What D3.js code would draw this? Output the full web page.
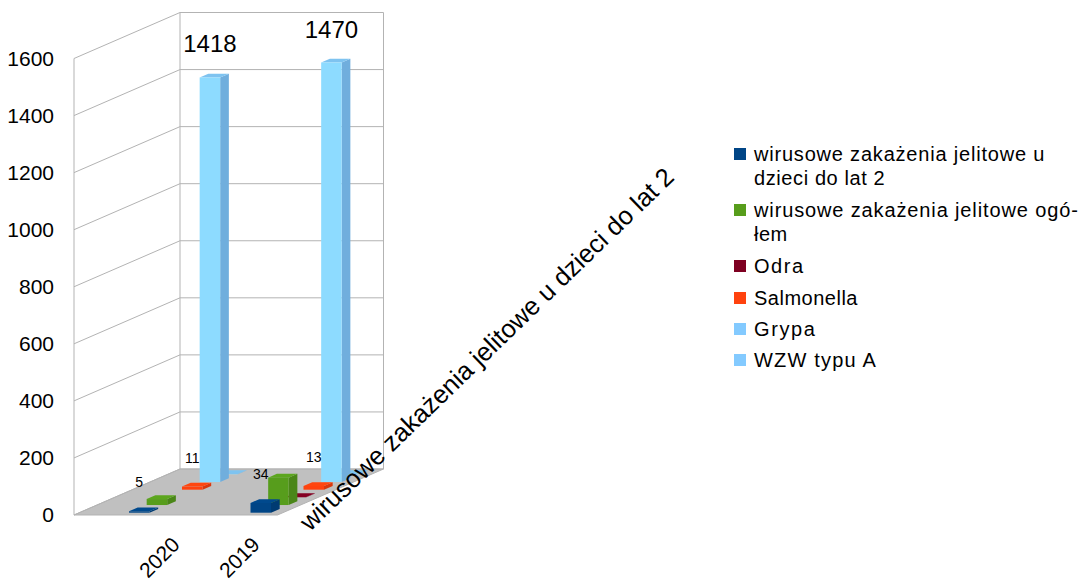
<!DOCTYPE html>
<html>
<head>
<meta charset="utf-8">
<script src="https://cdn.jsdelivr.net/npm/d3@7"></script>
<style>
  html, body { margin: 0; padding: 0; background: #fff; }
  text { font-family: "Liberation Sans", Arial, sans-serif; fill: #000; }
</style>
</head>
<body>
<svg id="chart" width="1080" height="581"></svg>
<script>
const years = ["2020", "2019"];
const seriesNames = ["wirusowe zakażenia jelitowe u dzieci do lat 2", "wirusowe zakażenia jelitowe ogółem", "Odra", "Salmonella", "Grypa", "WZW typu A"];
const legendLines = [["wirusowe zakażenia jelitowe u", "dzieci do lat 2"], ["wirusowe zakażenia jelitowe ogó-", "łem"], ["Odra"], ["Salmonella"], ["Grypa"], ["WZW typu A"]];
const legendSpacing = [[0.8, 0.6], [0.87, 0.5], [1.55], [0.5], [1.6], [1.2]];
const colors = ["#004586", "#579d1c", "#7e0021", "#ff420e", "#83caff", "#83caff"];

// values per series, same order as years
const wirusDzieci = [5, 34];
const wirusOgolem = [21, 96];
const odra = [0, 1];
const salmonella = [11, 13];
const grypa = [1418, 1470];
const wzw = [1, 1];
const allValues = [wirusDzieci, wirusOgolem, odra, salmonella, grypa, wzw];

// only these series carry a label
const labelled = [true, false, false, true, true, false];
const yTicks = [0, 200, 400, 600, 800, 1000, 1200, 1400, 1600];

const svg = d3.select("#chart");

// oblique projection of the 3d box: x across, depth back, v up
const boxW = 203.5, depthX = 106, depthY = 46;
const originX = 74, originY = 515;
const yScale = d3.scaleLinear().domain([0, 1600]).range([originY, 58.5]);
const xScale = d3.scaleBand().domain(years).range([49.7, 292.7]);
const depthScale = d3.scaleBand().domain(seriesNames).range([0.05, 1.05]);

function project(x, d, v) {
    return [originX + x + d * depthX, yScale(v) - d * depthY];
}
function poly(points, fill, stroke) {
    return svg.append("polygon")
        .attr("points", points.map(p => p.join(",")).join(" "))
        .attr("fill", fill)
        .attr("stroke", stroke || "none")
        .attr("stroke-width", stroke ? 1 : 0);
}

// floor
poly([project(0, 0, 0), project(boxW, 0, 0), project(boxW, 1, 0), project(0, 1, 0)], "#c0c0c0", "#b3b3b3");

// walls and gridlines
const lineColor = "#b3b3b3";
function wallLine(a, b) {
    svg.append("line")
        .attr("x1", a[0]).attr("y1", a[1])
        .attr("x2", b[0]).attr("y2", b[1])
        .attr("stroke", lineColor).attr("stroke-width", 1);
}
yTicks.forEach(t => {
    wallLine(project(0, 0, t), project(0, 1, t));
    wallLine(project(0, 1, t), project(boxW, 1, t));
});
wallLine(project(0, 0, 0), project(0, 0, 1600));
wallLine(project(0, 1, 0), project(0, 1, 1600));
wallLine(project(boxW, 1, 0), project(boxW, 1, 1600));

// y axis
const yAxis = svg.append("g")
    .attr("transform", `translate(${originX},0)`)
    .call(d3.axisLeft(yScale).tickValues(yTicks).tickSize(0).tickPadding(20).tickFormat(d3.format("d")));
yAxis.select(".domain").remove();
yAxis.selectAll("text").style("font-size", "21px").style("font-family", '"Liberation Sans"');

// bars, back to front
const barW = 20.5, barD = 0.082;
const bars = [];
seriesNames.forEach((name, i) => {
    years.forEach((yr, j) => bars.push({ i, j, name, yr, v: allValues[i][j] }));
});
bars.sort((a, b) => b.i - a.i);

bars.forEach(b => {
    if (b.v <= 0) return;
    const x0 = xScale(b.yr), x1 = x0 + barW;
    const d0 = depthScale(b.name), d1 = d0 + barD;
    const base = colors[b.i];
    const front = b.i >= 4 ? "#8ddbff" : base;
    const side = d3.color(base).darker(b.i >= 4 ? 0.55 : 0.45).formatHex();
    const top = d3.color(front).brighter(0.15).formatHex();
    poly([project(x1, d0, 0), project(x1, d1, 0), project(x1, d1, b.v), project(x1, d0, b.v)], b.i >= 4 ? "#70aedd" : side);
    poly([project(x0, d0, b.v), project(x1, d0, b.v), project(x1, d1, b.v), project(x0, d1, b.v)], b.i >= 4 ? "#7ec3f0" : top);
    poly([project(x0, d0, 0), project(x1, d0, 0), project(x1, d0, b.v), project(x0, d0, b.v)], front);
});

// data labels above the front face
bars.filter(b => labelled[b.i]).forEach(b => {
    const p = project(xScale(b.yr) + barW / 2, depthScale(b.name), b.v);
    const big = b.i === 4;
    svg.append("text")
        .attr("x", p[0])
        .attr("y", p[1] - (big ? 25 : 24))
        .attr("text-anchor", "middle")
        .style("font-size", big ? "24px" : "14px")
        .text(b.v);
});

// category labels, rotated
const catX = d3.scalePoint().domain(years).range([181, 261]);
years.forEach(yr => {
    svg.append("text")
        .attr("transform", `translate(${catX(yr)},${originY + 31}) rotate(-45)`)
        .attr("text-anchor", "end")
        .style("font-size", "21px")
        .text(yr);
});

// depth axis label, only the first series shows up
svg.append("text")
    .attr("transform", `translate(310,532) rotate(-44)`)
    .style("font-size", "25.7px")
    .text(seriesNames[0]);

// legend
const legendX = 734, legendSize = 12;
const legendY = d3.scaleOrdinal().domain(seriesNames).range([148, 204, 260, 292, 323, 354]);
seriesNames.forEach((name, i) => {
    const g = svg.append("g").attr("transform", `translate(${legendX},${legendY(name)})`);
    g.append("rect").attr("width", legendSize).attr("height", legendSize).attr("fill", colors[i]);
    const t = g.append("text").style("font-size", "20px");
    legendLines[i].forEach((line, k) => {
        t.append("tspan")
            .attr("x", 20)
            .attr("y", 13 + k * 24)
            .style("letter-spacing", legendSpacing[i][k] + "px")
            .text(line);
    });
});
</script>
</body>
</html>
